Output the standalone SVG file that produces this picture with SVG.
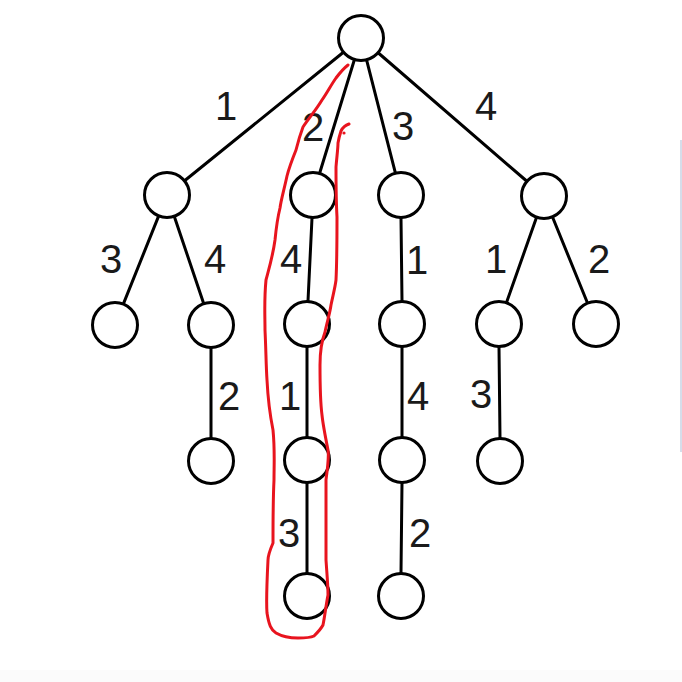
<svg xmlns="http://www.w3.org/2000/svg" width="682" height="682" viewBox="0 0 682 682">
<style>
.n{fill:#fff;stroke:#000;stroke-width:3}
.e{stroke:#000;stroke-width:3;stroke-linecap:round}
.l{font-family:"Liberation Sans","DejaVu Sans",sans-serif;font-size:40px;fill:#1a1a1a;text-anchor:middle}
.red{fill:none;stroke:#e8141e;stroke-width:3;stroke-linecap:round;stroke-linejoin:round}
</style>
<rect width="682" height="682" fill="#fff"/>
<rect x="0" y="670" width="682" height="12" fill="#fbfbfb"/>
<line x1="681" y1="140" x2="681" y2="452" stroke="#c9d2e3" stroke-width="1.5"/>
<g id="connectors">
<line class="e" x1="343.1" y1="52.5" x2="184.9" y2="180.5"/>
<line class="e" x1="354.3" y1="60" x2="319.7" y2="173"/>
<line class="e" x1="366.7" y1="60.3" x2="395.3" y2="172.7"/>
<line class="e" x1="378.4" y1="53" x2="526.6" y2="181"/>
<line class="e" x1="158.5" y1="216.4" x2="123.5" y2="303.6"/>
<line class="e" x1="174.4" y1="216.8" x2="203.6" y2="303.2"/>
<line class="e" x1="312" y1="218" x2="308" y2="301"/>
<line class="e" x1="401" y1="218" x2="402" y2="301"/>
<line class="e" x1="536.4" y1="217.7" x2="506.6" y2="302.3"/>
<line class="e" x1="552.6" y1="217.3" x2="587.4" y2="302.7"/>
<line class="e" x1="211" y1="348" x2="211" y2="438"/>
<line class="e" x1="307" y1="347" x2="307" y2="437"/>
<line class="e" x1="402" y1="347" x2="402" y2="437"/>
<line class="e" x1="499" y1="347" x2="500" y2="438"/>
<line class="e" x1="307" y1="483" x2="307" y2="573"/>
<line class="e" x1="402" y1="483" x2="401" y2="573"/>
</g>
<g id="labels">
<text class="l" x="226" y="120">1</text>
<text class="l" x="313" y="141">2</text>
<text class="l" x="403" y="140">3</text>
<text class="l" x="486" y="120">4</text>
<text class="l" x="111" y="273">3</text>
<text class="l" x="215" y="273">4</text>
<text class="l" x="291" y="273">4</text>
<text class="l" x="417" y="274">1</text>
<text class="l" x="496" y="273">1</text>
<text class="l" x="599" y="273">2</text>
<text class="l" x="229" y="410">2</text>
<text class="l" x="290" y="410">1</text>
<text class="l" x="418" y="410">4</text>
<text class="l" x="481" y="408">3</text>
<text class="l" x="289" y="547">3</text>
<text class="l" x="420" y="547">2</text>
</g>
<g id="root"><circle class="n" cx="361" cy="38" r="22.5"/></g>
<g id="a"><circle class="n" cx="167" cy="195" r="22.5"/></g>
<g id="b"><circle class="n" cx="313" cy="195" r="22.5"/></g>
<g id="c"><circle class="n" cx="401" cy="195" r="22.5"/></g>
<g id="d"><circle class="n" cx="544" cy="196" r="22.5"/></g>
<g id="a1"><circle class="n" cx="115" cy="325" r="22.5"/></g>
<g id="a2"><circle class="n" cx="211" cy="325" r="22.5"/></g>
<g id="b1"><circle class="n" cx="307" cy="324" r="22.5"/></g>
<g id="c1"><circle class="n" cx="402" cy="324" r="22.5"/></g>
<g id="d1"><circle class="n" cx="499" cy="324" r="22.5"/></g>
<g id="d2"><circle class="n" cx="596" cy="324" r="22.5"/></g>
<g id="a2a"><circle class="n" cx="211" cy="461" r="22.5"/></g>
<g id="b1a"><circle class="n" cx="307" cy="460" r="22.5"/></g>
<g id="c1a"><circle class="n" cx="402" cy="460" r="22.5"/></g>
<g id="d1a"><circle class="n" cx="500" cy="461" r="22.5"/></g>
<g id="b1b"><circle class="n" cx="307" cy="596" r="22.5"/></g>
<g id="c1b"><circle class="n" cx="401" cy="596" r="22.5"/></g>
<g id="highlight">
<path class="red" d="M348,65 C343,69 339,74 336,78 C331,85 327,93 322,100 C316,110 309,118 303,127 C300,135 298,142 296,150 C292,160 289,168 287,176 C284,190 281,200 280,208 C277,220 276,230 275,240 C273,255 270,265 266,280 C264,300 265,315 265,330 C266,350 266,365 267,380 C268,400 270,415 273,430 C275,450 274,465 274,480 C273,500 273,520 273,543 C270,550 268,555 268,560 C267,580 266,600 267,613 C269,625 271,630 276,633 C283,637 290,638 298,638 C305,638 310,638 314,636 C318,632 321,629 323,625 C325,615 326,605 328,595 C328,585 327,575 326,560 C326,540 326,510 326,480 C328,465 329,455 328,450 C325,435 323,425 322,415 C320,400 320,385 320,365 C320,350 322,340 325,332 C327,322 330,313 331,305 C333,295 335,288 336,280 C337,260 337,240 337,217 C336,200 336,185 336,167 C337,155 338,148 338,143 C339,137 340,134 341,131 C343,127 346,125 349,124"/>
<circle cx="344" cy="133" r="1.6" fill="#e8141e"/>
</g>
</svg>
